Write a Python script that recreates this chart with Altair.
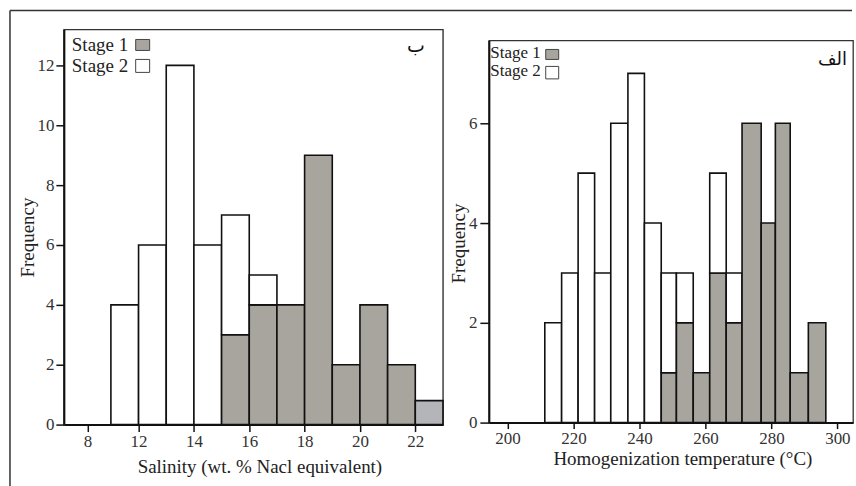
import altair as alt
import pandas as pd

# ---------------- data ----------------
# Panel "ب": salinity histogram
sal_bin_start = [11, 12, 13, 14, 15, 16, 17, 18, 19, 20, 21, 22]
sal_bin_end = [12, 13, 14, 15, 16, 17, 18, 19, 20, 21, 22, 23]
sal_stage1 = [0, 0, 0, 0, 3, 4, 4, 9, 2, 4, 2, 0]
sal_stage2 = [4, 6, 12, 6, 4, 1, 0, 0, 0, 0, 0, 0]
sal_extra = [0, 0, 0, 0, 0, 0, 0, 0, 0, 0, 0, 0.8]
sal_x_ticks = [10.15, 12, 14, 16, 18, 20, 22]
sal_y_ticks = [0, 2, 4, 6, 8, 10, 12]

# Panel "الف": homogenization temperature histogram
temp_bin_edges = [211.3, 216.4, 221.4, 226.4, 231.3, 236.5, 241.5, 246.6, 251.2,
                  256.3, 261.3, 266.3, 271.1, 276.9, 281.2, 285.7, 291.2, 296.5]
temp_stage1 = [0, 0, 0, 0, 0, 0, 0, 1, 2, 1, 3, 2, 6, 4, 6, 1, 2]
temp_stage2 = [2, 3, 5, 3, 6, 7, 4, 2, 1, 0, 2, 1, 0, 0, 0, 0, 0]
temp_x_ticks = [200, 220, 240, 260, 280, 300]
temp_y_ticks = [0, 2, 4, 6]

series_names = ["Stage 1", "Stage 2", "extra"]
series_fill = ["#a8a49e", "#ffffff", "#b4b5b9"]
series_stroke_w = [1.6, 1.6, 1.2]

FONT = "Liberation Serif"
AR_FONT = "DejaVu Sans"


def build_rows(starts, ends, s1, s2, extra=None):
    rows = []
    for i in range(len(starts)):
        if s1[i] > 0:
            rows.append({"x0": starts[i], "x1": ends[i], "y0": 0, "y1": s1[i], "series": "Stage 1"})
        if s2[i] > 0:
            rows.append({"x0": starts[i], "x1": ends[i], "y0": s1[i], "y1": s1[i] + s2[i], "series": "Stage 2"})
        if extra is not None and extra[i] > 0:
            rows.append({"x0": starts[i], "x1": ends[i], "y0": 0, "y1": extra[i], "series": "extra"})
    return pd.DataFrame(rows)


sal_df = build_rows(sal_bin_start, sal_bin_end, sal_stage1, sal_stage2, sal_extra)
temp_df = build_rows(temp_bin_edges[:-1], temp_bin_edges[1:], temp_stage1, temp_stage2)
one = pd.DataFrame({"k": [0]})

fill_scale = alt.Scale(domain=series_names, range=series_fill)
sw_scale = alt.Scale(domain=series_names, range=series_stroke_w)

axis_common = dict(
    labelFont=FONT, labelFontSize=17, labelColor="#333",
    titleFont=FONT, titleFontSize=19, titleFontWeight="normal", titleColor="#222",
    domainColor="#111", domainWidth=2, tickColor="#111", tickWidth=1.5,
    grid=False,
)


def legend_layers(text_x, base1, base2, sq_x, sq_x2, sq1, sq2, fs):
    t1 = alt.Chart(one).mark_text(font=FONT, fontSize=fs, align="left", baseline="alphabetic",
                                  color="#222").encode(
        x=alt.value(text_x), y=alt.value(base1), text=alt.value("Stage 1"))
    t2 = alt.Chart(one).mark_text(font=FONT, fontSize=fs, align="left", baseline="alphabetic",
                                  color="#222").encode(
        x=alt.value(text_x), y=alt.value(base2), text=alt.value("Stage 2"))
    r1 = alt.Chart(one).mark_rect(fill=series_fill[0], stroke="#444", strokeWidth=1).encode(
        x=alt.value(sq_x), x2=alt.value(sq_x2), y=alt.value(sq1[0]), y2=alt.value(sq1[1]))
    r2 = alt.Chart(one).mark_rect(fill=series_fill[1], stroke="#444", strokeWidth=1).encode(
        x=alt.value(sq_x), x2=alt.value(sq_x2), y=alt.value(sq2[0]), y2=alt.value(sq2[1]))
    return [t1, t2, r1, r2]


# ---------------- left panel (ب) ----------------
LW, LH = 380, 396
left_bars = alt.Chart(sal_df).mark_rect(stroke="#111").encode(
    x=alt.X("x0:Q", scale=alt.Scale(domain=[9.3, 23], nice=False, zero=False),
            axis=alt.Axis(values=sal_x_ticks, tickSize=7, labelPadding=2,
                          labelExpr="datum.value < 11 ? '8' : format(datum.value, 'd')",
                          title="Salinity (wt. % Nacl equivalent)",
                          titleX=196, titleY=48, titleAlign="center", titleBaseline="alphabetic",
                          **axis_common)),
    x2="x1:Q",
    y=alt.Y("y0:Q", scale=alt.Scale(domain=[0, 13.2], nice=False),
            axis=alt.Axis(values=sal_y_ticks, tickSize=8, labelPadding=2, format="d",
                          title="Frequency", titleAngle=270, titleX=-36.5, titleY=208,
                          titleAlign="center", titleBaseline="middle", **axis_common)),
    y2="y1:Q",
    fill=alt.Fill("series:N", scale=fill_scale, legend=None),
    strokeWidth=alt.StrokeWidth("series:N", scale=sw_scale, legend=None),
)

left_label = alt.Chart(one).mark_text(font=AR_FONT, fontSize=19, align="center",
                                      baseline="alphabetic", color="#111").encode(
    x=alt.value(353), y=alt.value(23), text=alt.value("ب"))

# outer figure frame (top and left lines)
frame_left = alt.Chart(one).mark_rule(color="#333", strokeWidth=1.5).encode(
    x=alt.value(-54), y=alt.value(-19), y2=alt.value(459))
frame_top = alt.Chart(one).mark_rule(color="#333", strokeWidth=1.5).encode(
    x=alt.value(-54), x2=alt.value(790), y=alt.value(-19))

left_panel = alt.layer(
    left_bars, left_label, frame_left, frame_top,
    *legend_layers(8, 22, 43, 72, 86, (10, 21), (30, 43), 19),
).properties(width=LW, height=LH,
             view=alt.ViewBackground(stroke="#333", strokeWidth=1.4))

# ---------------- right panel (الف) ----------------
RW, RH = 365, 383
right_bars = alt.Chart(temp_df).mark_rect(stroke="#111", strokeWidth=1.6).encode(
    x=alt.X("x0:Q", scale=alt.Scale(domain=[194.34, 304.74], nice=False, zero=False),
            axis=alt.Axis(values=temp_x_ticks, tickSize=6, labelPadding=2, format="d",
                          title="Homogenization temperature (°C)",
                          titleX=194, titleY=42, titleAlign="center", titleBaseline="alphabetic",
                          **axis_common)),
    x2="x1:Q",
    y=alt.Y("y0:Q", scale=alt.Scale(domain=[0, 7.66], nice=False),
            axis=alt.Axis(values=temp_y_ticks, tickSize=9, labelPadding=3, format="d",
                          title="Frequency", titleAngle=270, titleX=-30, titleY=203,
                          titleAlign="center", titleBaseline="middle", **axis_common)),
    y2="y1:Q",
    fill=alt.Fill("series:N", scale=fill_scale, legend=None),
)

right_label = alt.Chart(one).mark_text(font=AR_FONT, fontSize=18, align="right",
                                       baseline="alphabetic", color="#111").encode(
    x=alt.value(359), y=alt.value(25), text=alt.value("الف"))

right_panel = alt.layer(
    right_bars, right_label,
    *legend_layers(1.5, 18, 36, 57, 70, (9, 19), (26, 38.5), 17),
).properties(width=RW, height=RH,
             view=alt.ViewBackground(stroke="#333", strokeWidth=1.3))

spacer = alt.Chart(one).mark_point(opacity=0).encode(
    x=alt.value(5), y=alt.value(5)
).properties(width=RW, height=11, view=alt.ViewBackground(strokeWidth=0, stroke="transparent"))

right_col = alt.vconcat(spacer, right_panel, spacing=0, bounds="flush")

chart = alt.hconcat(left_panel, right_col, spacing=46, bounds="flush").properties(
    padding={"left": 8, "top": 8, "right": 2, "bottom": 0},
    background="white",
).configure(font=FONT).configure_axis(labelFont=FONT, titleFont=FONT
).configure_view(stroke="transparent")

chart.save("out.html", embed_options={"renderer": "svg", "actions": False})
